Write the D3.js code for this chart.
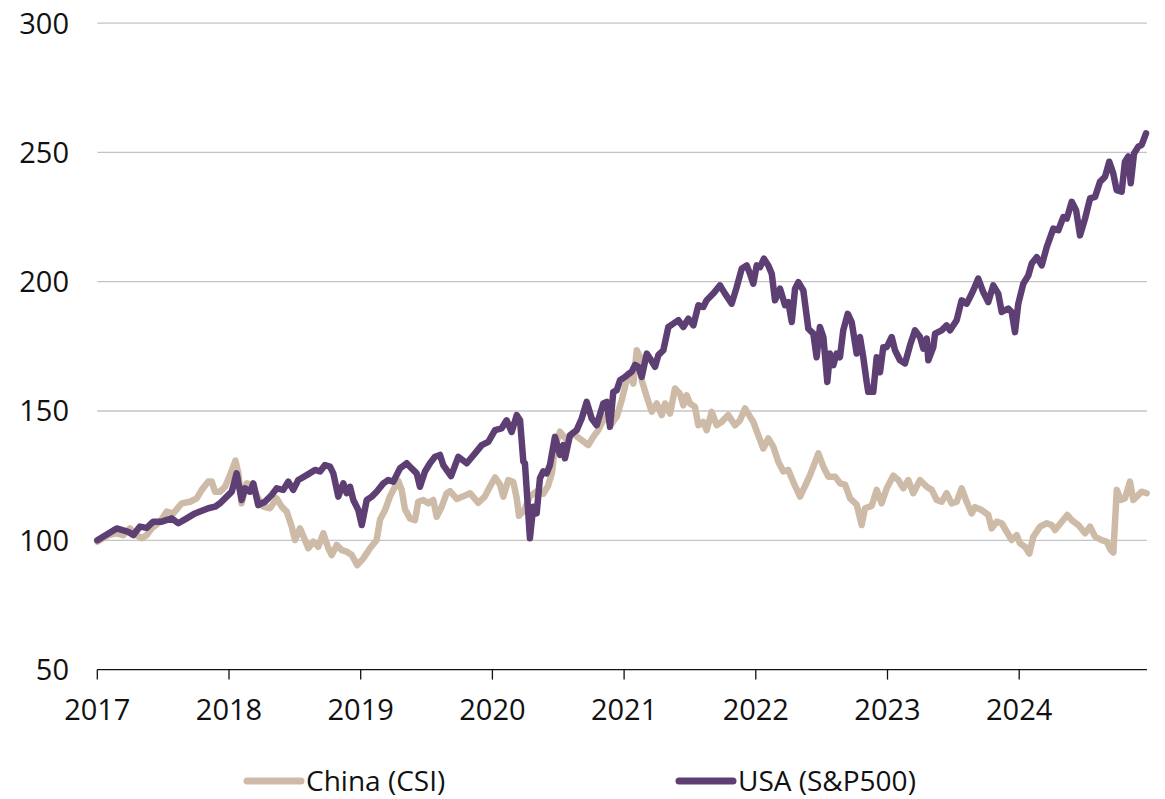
<!DOCTYPE html>
<html>
<head>
<meta charset="utf-8">
<script src="https://cdn.jsdelivr.net/npm/d3@7"></script>
<style>
  body { margin: 0; background: #fff; }
  text { font-family: "Open Sans", sans-serif; fill: #111; }
</style>
</head>
<body>
<svg id="chart"></svg>
<script>
// Chart size
const width = 1165;
const height = 799;

// Data: [decimal year, index value]
const china = [
  [2017.000, 99.5], [2017.084, 102], [2017.147, 102.7], [2017.197, 102], [2017.248, 104.6],
  [2017.299, 102], [2017.337, 100.8], [2017.375, 102], [2017.413, 104.6], [2017.476, 107.2],
  [2017.527, 111.1], [2017.577, 110.4], [2017.641, 114.3], [2017.704, 114.9], [2017.755, 116.2],
  [2017.793, 119.5], [2017.843, 122.7], [2017.869, 122.7], [2017.894, 118.8], [2017.932, 118.8],
  [2017.970, 120.7], [2018.008, 125.2], [2018.049, 130.8], [2018.071, 125.9], [2018.096, 114.3],
  [2018.134, 122], [2018.172, 121.4], [2018.222, 116.2], [2018.260, 113], [2018.311, 112.4],
  [2018.362, 116.2], [2018.400, 113], [2018.438, 111.1], [2018.476, 105.3], [2018.501, 100.1],
  [2018.539, 104.6], [2018.577, 100.1], [2018.602, 96.9], [2018.640, 99.5], [2018.678, 97.5],
  [2018.716, 102.7], [2018.754, 96.9], [2018.780, 94.3], [2018.818, 98.2], [2018.856, 96.2],
  [2018.894, 95.6], [2018.932, 94.3], [2018.974, 90.4], [2019.020, 93], [2019.071, 96.9],
  [2019.121, 100.1], [2019.147, 108], [2019.185, 111.7], [2019.222, 116.9], [2019.260, 120.7],
  [2019.285, 123], [2019.311, 119.5], [2019.336, 112], [2019.374, 108.5], [2019.412, 107.8],
  [2019.437, 114.9], [2019.475, 115.6], [2019.513, 114.3], [2019.551, 115.6], [2019.577, 109.1],
  [2019.615, 113], [2019.653, 118.2], [2019.678, 119], [2019.729, 116], [2019.779, 117],
  [2019.830, 118.2], [2019.893, 114.5], [2019.943, 117], [2019.981, 120.7], [2020.020, 124.3],
  [2020.058, 121.5], [2020.083, 116.9], [2020.121, 123.3], [2020.159, 122.5], [2020.185, 116.2],
  [2020.202, 109.5], [2020.240, 111.5], [2020.285, 116.9], [2020.336, 119], [2020.386, 118],
  [2020.422, 121], [2020.452, 126], [2020.475, 136.2], [2020.513, 142], [2020.564, 138.8],
  [2020.610, 141.3], [2020.678, 138.7], [2020.728, 136.8], [2020.766, 140], [2020.804, 142.6],
  [2020.855, 147.8], [2020.906, 145.1], [2020.944, 147.8], [2020.982, 154.2], [2021.007, 159.3],
  [2021.032, 164.5], [2021.070, 160.6], [2021.096, 173.5], [2021.121, 170.9], [2021.134, 161.9],
  [2021.172, 155.5], [2021.210, 149.7], [2021.248, 152.9], [2021.286, 148.4], [2021.311, 152.9],
  [2021.349, 149], [2021.386, 158.7], [2021.424, 156.7], [2021.450, 152.2], [2021.475, 156.1],
  [2021.501, 152.9], [2021.538, 151.6], [2021.564, 144.5], [2021.601, 145.8], [2021.627, 142.6],
  [2021.665, 149.7], [2021.703, 144.5], [2021.741, 145.8], [2021.791, 148.4], [2021.842, 144.5],
  [2021.880, 146.4], [2021.918, 151], [2021.956, 147.8], [2021.981, 145.8], [2022.019, 140.6],
  [2022.057, 135.5], [2022.095, 139.4], [2022.133, 136.2], [2022.171, 130.4], [2022.209, 126.6],
  [2022.247, 127.2], [2022.285, 122.5], [2022.336, 116.9], [2022.374, 121], [2022.412, 125.2],
  [2022.475, 133.6], [2022.513, 128.5], [2022.551, 124.6], [2022.602, 124.6], [2022.640, 122],
  [2022.678, 121.5], [2022.716, 116.2], [2022.766, 113.8], [2022.804, 105.9], [2022.829, 112.4],
  [2022.880, 113.3], [2022.918, 119.5], [2022.956, 114.3], [2022.994, 120.1], [2023.044, 125],
  [2023.082, 123.3], [2023.120, 120.1], [2023.158, 123.3], [2023.196, 118.2], [2023.247, 123.3],
  [2023.298, 120.7], [2023.336, 119.5], [2023.374, 115.6], [2023.411, 114.9], [2023.449, 118.2],
  [2023.487, 114.3], [2023.525, 114.9], [2023.563, 120.1], [2023.601, 114.9], [2023.639, 110.4],
  [2023.664, 112.8], [2023.715, 111.7], [2023.765, 109.8], [2023.791, 104.6], [2023.829, 107.2],
  [2023.867, 106.6], [2023.905, 103.3], [2023.943, 100.1], [2023.981, 102], [2024.006, 98.8],
  [2024.044, 97.5], [2024.077, 94.9], [2024.107, 101.4], [2024.158, 105.3], [2024.209, 106.6],
  [2024.247, 105.9], [2024.272, 104], [2024.323, 107.2], [2024.365, 109.8], [2024.399, 107.8],
  [2024.449, 105.9], [2024.500, 102.7], [2024.538, 105.3], [2024.576, 101.4], [2024.626, 100.1],
  [2024.664, 99.5], [2024.695, 96.2], [2024.715, 95.3], [2024.741, 119.5], [2024.771, 115.6],
  [2024.803, 116.2], [2024.841, 122.7], [2024.866, 115.6], [2024.892, 116.9], [2024.930, 118.8],
  [2024.968, 118.2]
];

const usa = [
  [2017.000, 100], [2017.147, 104.6], [2017.235, 103.3], [2017.273, 102], [2017.324, 105.3],
  [2017.375, 104.8], [2017.425, 107.2], [2017.489, 107.2], [2017.565, 108.5], [2017.615, 106.6],
  [2017.679, 108.5], [2017.742, 110.4], [2017.843, 112.4], [2017.894, 113], [2017.932, 114.3],
  [2017.983, 116.9], [2018.021, 118.8], [2018.058, 125.9], [2018.096, 115.6], [2018.121, 120.1],
  [2018.159, 118.8], [2018.185, 122], [2018.222, 113.6], [2018.273, 114.9], [2018.324, 117.5],
  [2018.362, 120.1], [2018.412, 119.5], [2018.450, 122.7], [2018.488, 119.5], [2018.526, 123.3],
  [2018.590, 125.2], [2018.653, 127.2], [2018.691, 126.6], [2018.729, 129.1], [2018.767, 128.5],
  [2018.792, 125.9], [2018.830, 116.9], [2018.868, 122], [2018.894, 118.2], [2018.919, 120.7],
  [2018.944, 115.6], [2018.982, 111.7], [2019.008, 105.9], [2019.046, 115.6], [2019.084, 116.9],
  [2019.121, 118.8], [2019.172, 122], [2019.210, 123.3], [2019.248, 122.7], [2019.298, 127.8],
  [2019.349, 129.8], [2019.387, 127.8], [2019.425, 125.9], [2019.450, 120.7], [2019.488, 126.6],
  [2019.526, 129.8], [2019.564, 132.3], [2019.602, 133], [2019.627, 129.1], [2019.686, 124.8],
  [2019.741, 132.3], [2019.805, 129.8], [2019.868, 133.6], [2019.919, 136.8], [2019.969, 138.1],
  [2020.020, 142.6], [2020.070, 143.3], [2020.108, 146.4], [2020.146, 141.9], [2020.185, 148.4],
  [2020.210, 146.4], [2020.235, 130.4], [2020.247, 129.8], [2020.285, 100.8], [2020.310, 113],
  [2020.336, 110.4], [2020.361, 124], [2020.386, 126.6], [2020.412, 125.9], [2020.437, 129.1],
  [2020.475, 140], [2020.513, 133], [2020.538, 136.8], [2020.551, 131.7], [2020.589, 140.6],
  [2020.640, 142.6], [2020.678, 147.1], [2020.716, 153.5], [2020.754, 147.1], [2020.792, 144.5],
  [2020.842, 152.9], [2020.868, 153.5], [2020.893, 143.9], [2020.918, 157.4], [2020.944, 158],
  [2020.969, 161.9], [2021.007, 163.2], [2021.058, 165.2], [2021.083, 167.8], [2021.108, 167.1],
  [2021.134, 163.2], [2021.172, 172.2], [2021.197, 170.3], [2021.235, 167.1], [2021.260, 171.6],
  [2021.298, 173.5], [2021.336, 182.5], [2021.374, 183.8], [2021.412, 185.1], [2021.450, 182.5],
  [2021.488, 185.7], [2021.526, 183.1], [2021.564, 190.9], [2021.601, 190.2], [2021.627, 192.8],
  [2021.677, 195.4], [2021.728, 198.6], [2021.766, 195.4], [2021.817, 191.5], [2021.855, 197.9],
  [2021.893, 205], [2021.931, 206.3], [2021.956, 203.1], [2021.981, 199.2], [2022.007, 206.3],
  [2022.032, 205.6], [2022.062, 208.9], [2022.095, 206.3], [2022.121, 203.1], [2022.146, 192.8],
  [2022.184, 197.3], [2022.222, 190.9], [2022.247, 192.1], [2022.273, 184.4], [2022.298, 197.3],
  [2022.323, 199.8], [2022.361, 196.6], [2022.399, 181.8], [2022.437, 179.9], [2022.462, 170.8],
  [2022.487, 182.5], [2022.513, 178.6], [2022.543, 161.2], [2022.563, 172.2], [2022.588, 167.7],
  [2022.614, 172.2], [2022.639, 170.8], [2022.664, 181.2], [2022.698, 187.6], [2022.728, 184.4],
  [2022.766, 172.2], [2022.791, 178.6], [2022.816, 170.8], [2022.842, 161.2], [2022.854, 157.4],
  [2022.892, 157.4], [2022.918, 170.8], [2022.943, 165], [2022.968, 174.7], [2022.994, 174.7],
  [2023.032, 178.6], [2023.057, 173.5], [2023.095, 169.6], [2023.133, 168.4], [2023.171, 175.4],
  [2023.209, 181.2], [2023.247, 178.6], [2023.272, 174.1], [2023.298, 178], [2023.310, 169.6],
  [2023.348, 174.7], [2023.361, 179.9], [2023.411, 181.2], [2023.449, 183.1], [2023.475, 181.2],
  [2023.525, 185.1], [2023.563, 192.8], [2023.601, 191.5], [2023.626, 194], [2023.651, 196.6],
  [2023.689, 201.2], [2023.727, 196], [2023.765, 192.1], [2023.803, 198.6], [2023.841, 195.4],
  [2023.867, 188.3], [2023.917, 189.6], [2023.943, 188.3], [2023.968, 180.5], [2023.993, 191.5],
  [2024.031, 199.2], [2024.069, 202.4], [2024.095, 207], [2024.133, 209.5], [2024.171, 206.3],
  [2024.209, 213.4], [2024.259, 220.5], [2024.297, 219.9], [2024.335, 225], [2024.361, 224.4],
  [2024.399, 230.9], [2024.432, 227.6], [2024.462, 217.9], [2024.500, 224.4], [2024.538, 232.2],
  [2024.576, 232.8], [2024.613, 238.6], [2024.652, 240.6], [2024.684, 246.4], [2024.714, 241.9],
  [2024.740, 235.4], [2024.778, 234.8], [2024.803, 246.4], [2024.828, 248.4], [2024.847, 238.1],
  [2024.872, 249.6], [2024.904, 252.2], [2024.930, 252.9], [2024.963, 257.4]
];

const yTicks = [50, 100, 150, 200, 250, 300];
const xTicks = [2017, 2018, 2019, 2020, 2021, 2022, 2023, 2024];
const seriesNames = ["China (CSI)", "USA (S&P500)"];
const xDomain = [2017, 2025];
const xAxisEnd = 2024.97;

// Visual constants
const CHINA_COLOR = '#cdbba8';
const USA_COLOR = '#5e3f74';
const GRID_COLOR = '#c4c4c4';
const LINE_WIDTH = 6.5;
const FONT_SIZE = 29;

const x = d3.scaleLinear().domain(xDomain).range([97.3, 1150.9]);
const y = d3.scaleLinear().domain([50, 300]).range([669.6, 23.1]);

const svg = d3.select('#chart')
    .attr('width', width)
    .attr('height', height)
    .attr('viewBox', [0, 0, width, height]);

// Horizontal gridlines (not at the base line)
svg.append('g')
    .selectAll('line')
    .data(yTicks.filter(d => d > 50))
    .join('line')
        .attr('x1', x(2017))
        .attr('x2', x(xAxisEnd))
        .attr('y1', d => y(d))
        .attr('y2', d => y(d))
        .attr('stroke', GRID_COLOR)
        .attr('stroke-width', 1.3);

// Y labels
svg.append('g')
    .selectAll('text')
    .data(yTicks)
    .join('text')
        .attr('x', 69)
        .attr('y', d => y(d))
        .attr('dy', '0.36em')
        .attr('text-anchor', 'end')
        .attr('font-size', FONT_SIZE)
        .text(d => d);

// X axis
const xAxis = svg.append('g')
    .attr('transform', `translate(0,${y(50)})`);
xAxis.append('line')
    .attr('x1', x(2017))
    .attr('x2', x(xAxisEnd))
    .attr('stroke', '#111')
    .attr('stroke-width', 1.3);
xAxis.selectAll('line.tick')
    .data(xTicks)
    .join('line')
        .attr('class', 'tick')
        .attr('x1', d => x(d))
        .attr('x2', d => x(d))
        .attr('y1', 0)
        .attr('y2', 10)
        .attr('stroke', '#111')
        .attr('stroke-width', 1.3);
xAxis.selectAll('text')
    .data(xTicks)
    .join('text')
        .attr('x', d => x(d))
        .attr('y', 50)
        .attr('text-anchor', 'middle')
        .attr('font-size', FONT_SIZE)
        .text(d => d);

// Lines
const line = d3.line()
    .x(d => x(d[0]))
    .y(d => y(d[1]));

const series = [
    { name: seriesNames[0], data: china, color: CHINA_COLOR },
    { name: seriesNames[1], data: usa, color: USA_COLOR }
];

svg.append('g')
    .selectAll('path')
    .data(series)
    .join('path')
        .attr('d', d => line(d.data))
        .attr('fill', 'none')
        .attr('stroke', d => d.color)
        .attr('stroke-width', LINE_WIDTH)
        .attr('stroke-linejoin', 'round')
        .attr('stroke-linecap', 'round');

// Legend
const legendX = [247, 679];
const legend = svg.append('g')
    .selectAll('g')
    .data(series)
    .join('g')
        .attr('transform', (d, i) => `translate(${legendX[i]},781)`);
legend.append('line')
    .attr('x1', 0)
    .attr('x2', 54)
    .attr('stroke', d => d.color)
    .attr('stroke-width', 7)
    .attr('stroke-linecap', 'round');
legend.append('text')
    .attr('x', 59)
    .attr('dy', '0.34em')
    .attr('font-size', 28)
    .text(d => d.name);
</script>
</body>
</html>
